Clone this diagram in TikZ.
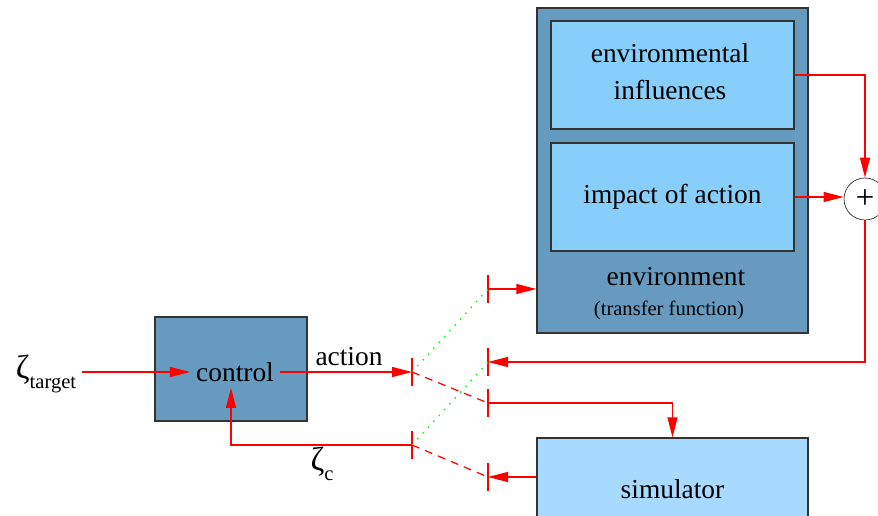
\documentclass[tikz,border=0pt]{standalone}
\usepackage{fontspec}
\setmainfont{Liberation Serif}
\usetikzlibrary{arrows.meta}

\definecolor{boxblue}{RGB}{102,154,190}
\definecolor{innerblue}{RGB}{135,206,250}
\definecolor{simblue}{RGB}{168,218,255}
\newcommand{\bigtxt}{\fontsize{15.6}{21}\selectfont}
\newcommand{\smalltxt}{\fontsize{11.7}{14}\selectfont}
\newcommand{\zetatxt}{{\fontsize{19}{21}\selectfont ζ}}

\begin{document}
\begin{tikzpicture}[x=0.02cm,y=-0.02cm,
  blk/.style={draw=black!80,line width=0.8pt,inner sep=0pt},
  txt/.style={font=\bigtxt},
  sig/.style={red,line width=0.7pt,-{Triangle[length=0.4cm,width=0.2cm]}},
  bar/.style={draw=red,line width=0.9pt,minimum width=0pt,minimum height=0.56cm,inner sep=0pt}]
  \useasboundingbox (0,0) rectangle (878,516);

  % blocks
  \node[blk,fill=boxblue,minimum width=3.04cm,minimum height=2.08cm] (ctrl) at (231,369) {};
  \node[txt] (ctrltxt) at (235,372) {control};
  \node[blk,fill=boxblue,minimum width=5.42cm,minimum height=6.5cm] (env) at (672.5,170.5) {};
  \node[blk,fill=innerblue,minimum width=4.86cm,minimum height=2.16cm] (infl) at (672.5,75) {};
  \node[align=center,txt] (infltxt) at (670,72) {environmental\\influences};
  \node[blk,fill=innerblue,minimum width=4.86cm,minimum height=2.16cm,txt] (impact) at (672.5,197) {impact of action};
  \node[txt] (envtxt) at (676,277) {environment};
  \node[font=\smalltxt] (tf) at (669,310) {(transfer function)};
  \node[blk,fill=simblue,minimum width=5.42cm,minimum height=2.04cm,txt] (sim) at (672.5,489) {simulator};
  \node[draw=black!80,circle,fill=white,minimum size=0.84cm,inner sep=0pt,font=\fontsize{19}{21}\selectfont] (sum) at (865,199) {+};

  % switches
  \node[bar] (s1) at (412,372) {};
  \node[bar] (s2) at (412,445) {};
  \node[bar] (r1) at (488,289) {};
  \node[bar] (r2) at (488,362) {};
  \node[bar] (r3) at (488,403) {};
  \node[bar] (r4) at (488,477) {};

  % labels
  \node[txt] (zt) at (46,374) {\zetatxt\raisebox{-6pt}{\smalltxt target}};
  \node[txt] (zc) at (322,464) {\zetatxt\raisebox{-6pt}{\smalltxt c}};
  \node[txt] (act) at (349,357) {action};

  % signals
  \draw[sig] (zt.east |- ctrltxt) -- (ctrltxt.west);
  \draw[sig] (ctrltxt.east) -- (s1.center);
  \draw[sig] (s2.center) -| (ctrl.center |- ctrltxt.south);
  \draw[green,line width=0.8pt,dash pattern=on 0.8pt off 3.7pt] (s1.center) -- (r1.center);
  \draw[green,line width=0.8pt,dash pattern=on 0.8pt off 3.7pt] (s2.center) -- (r2.center);
  \draw[red,line width=0.7pt,dash pattern=on 4.5pt off 3.5pt] (s1.center) -- (r3.center);
  \draw[red,line width=0.7pt,dash pattern=on 4.5pt off 3.5pt] (s2.center) -- (r4.center);
  \draw[sig] (r1.center) -- (r1.center -| env.west);
  \draw[sig] (infl.east) -| (sum.north);
  \draw[sig] (impact.east) -- (impact.east -| sum.west);
  \draw[sig] (sum.south) |- (r2.center);
  \draw[sig] (r3.center) -| (sim.north);
  \draw[sig] (sim.west |- r4.center) -- (r4.center);
\end{tikzpicture}
\end{document}
